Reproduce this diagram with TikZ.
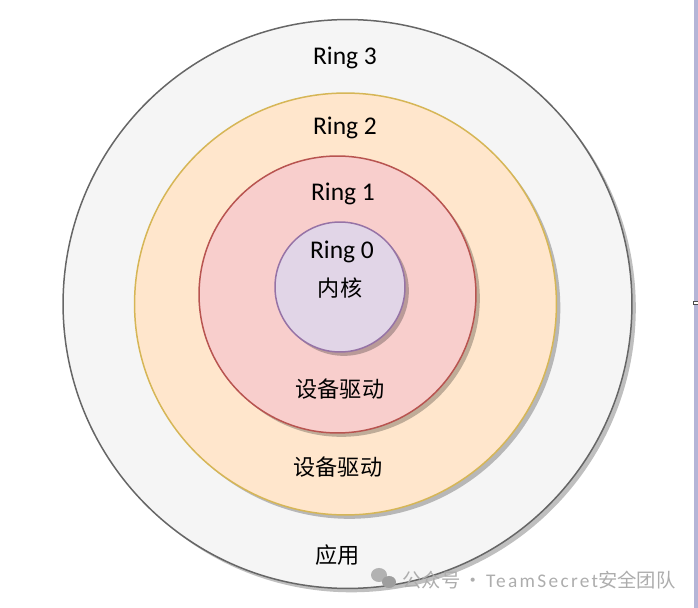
\documentclass[tikz,border=0pt]{standalone}
\usepackage{fontspec}
\setmainfont{Carlito}
\newfontfamily\cjk{Noto Sans CJK SC}
\newfontfamily\markfont[LetterSpace=12]{Carlito}
\usetikzlibrary{shadows}
\definecolor{ringgray}{HTML}{F5F5F5}
\definecolor{ringorange}{HTML}{FFE6CC}
\definecolor{ringred}{HTML}{F8CECC}
\definecolor{ringpurple}{HTML}{E1D5E7}
\definecolor{linegray}{HTML}{666666}
\definecolor{linegold}{HTML}{D6B656}
\definecolor{linered}{HTML}{B85450}
\definecolor{linepurple}{HTML}{9673A6}
\tikzset{
  ringdisc/.style={circle, inner sep=0pt, line width=0.85pt, drop shadow={shadow xshift=2.2pt, shadow yshift=-2.2pt, fill=black, opacity=0.25}},
  ringtext/.style={font=\fontsize{14.5}{16}\selectfont, text=black},
  zhtext/.style={font=\cjk\fontsize{12.6}{14}\selectfont, text=black},
  marktext/.style={font=\fontsize{11}{12}\selectfont, text=black!32},
}
\begin{document}
\begin{tikzpicture}[x=0.02cm, y=-0.02cm]
	\useasboundingbox (0, 0) rectangle (698, 608) ;
	% the four rings, outermost first
	\node[ringdisc, minimum size=11.38cm, fill=ringgray, draw=linegray] (ringthree) at (347.5, 304) {} ;
	\node[ringdisc, minimum size=8.44cm, fill=ringorange, draw=linegold] (ringtwo) at (345.5, 304) {} ;
	\node[ringdisc, minimum size=5.54cm, fill=ringred, draw=linered] (ringone) at (337.5, 294.5) {} ;
	\node[ringdisc, minimum size=2.6cm, fill=ringpurple, draw=linepurple] (ringzero) at (340, 287) {} ;

	\node[ringtext] (labelthree) at (345, 58) {Ring 3} ;
	\node[ringtext] (labeltwo) at (345, 128) {Ring 2} ;
	\node[ringtext] (labelone) at (343, 194) {Ring 1} ;
	\node[ringtext] (labelzero) at (342, 252) {Ring 0} ;

	\node[zhtext] (kernel) at (340, 288) {内核} ;
	\node[zhtext] (driverone) at (340, 389) {设备驱动} ;
	\node[zhtext] (drivertwo) at (338, 467) {设备驱动} ;
	\node[zhtext] (app) at (338, 555) {应用} ;

	% watermark
	\fill[black!30] (379, 575) ellipse (8 and 7) ;
	\fill[black!38] (389, 582) ellipse (7 and 6) ;
	\node[marktext, anchor=west, inner sep=0pt] (mark) at (402, 580) {{\cjk 公众号\,·\,}{\markfont TeamSecret}{\cjk 安全团队}} ;

	% window edge on the right
	\fill[blue!30!gray!45] (694, 0) rectangle (698, 608) ;
	\node[draw=black!70, fill=white, inner sep=0pt, minimum width=3pt, minimum height=2pt] (handle) at (696, 303) {} ;
\end{tikzpicture}
\end{document}
